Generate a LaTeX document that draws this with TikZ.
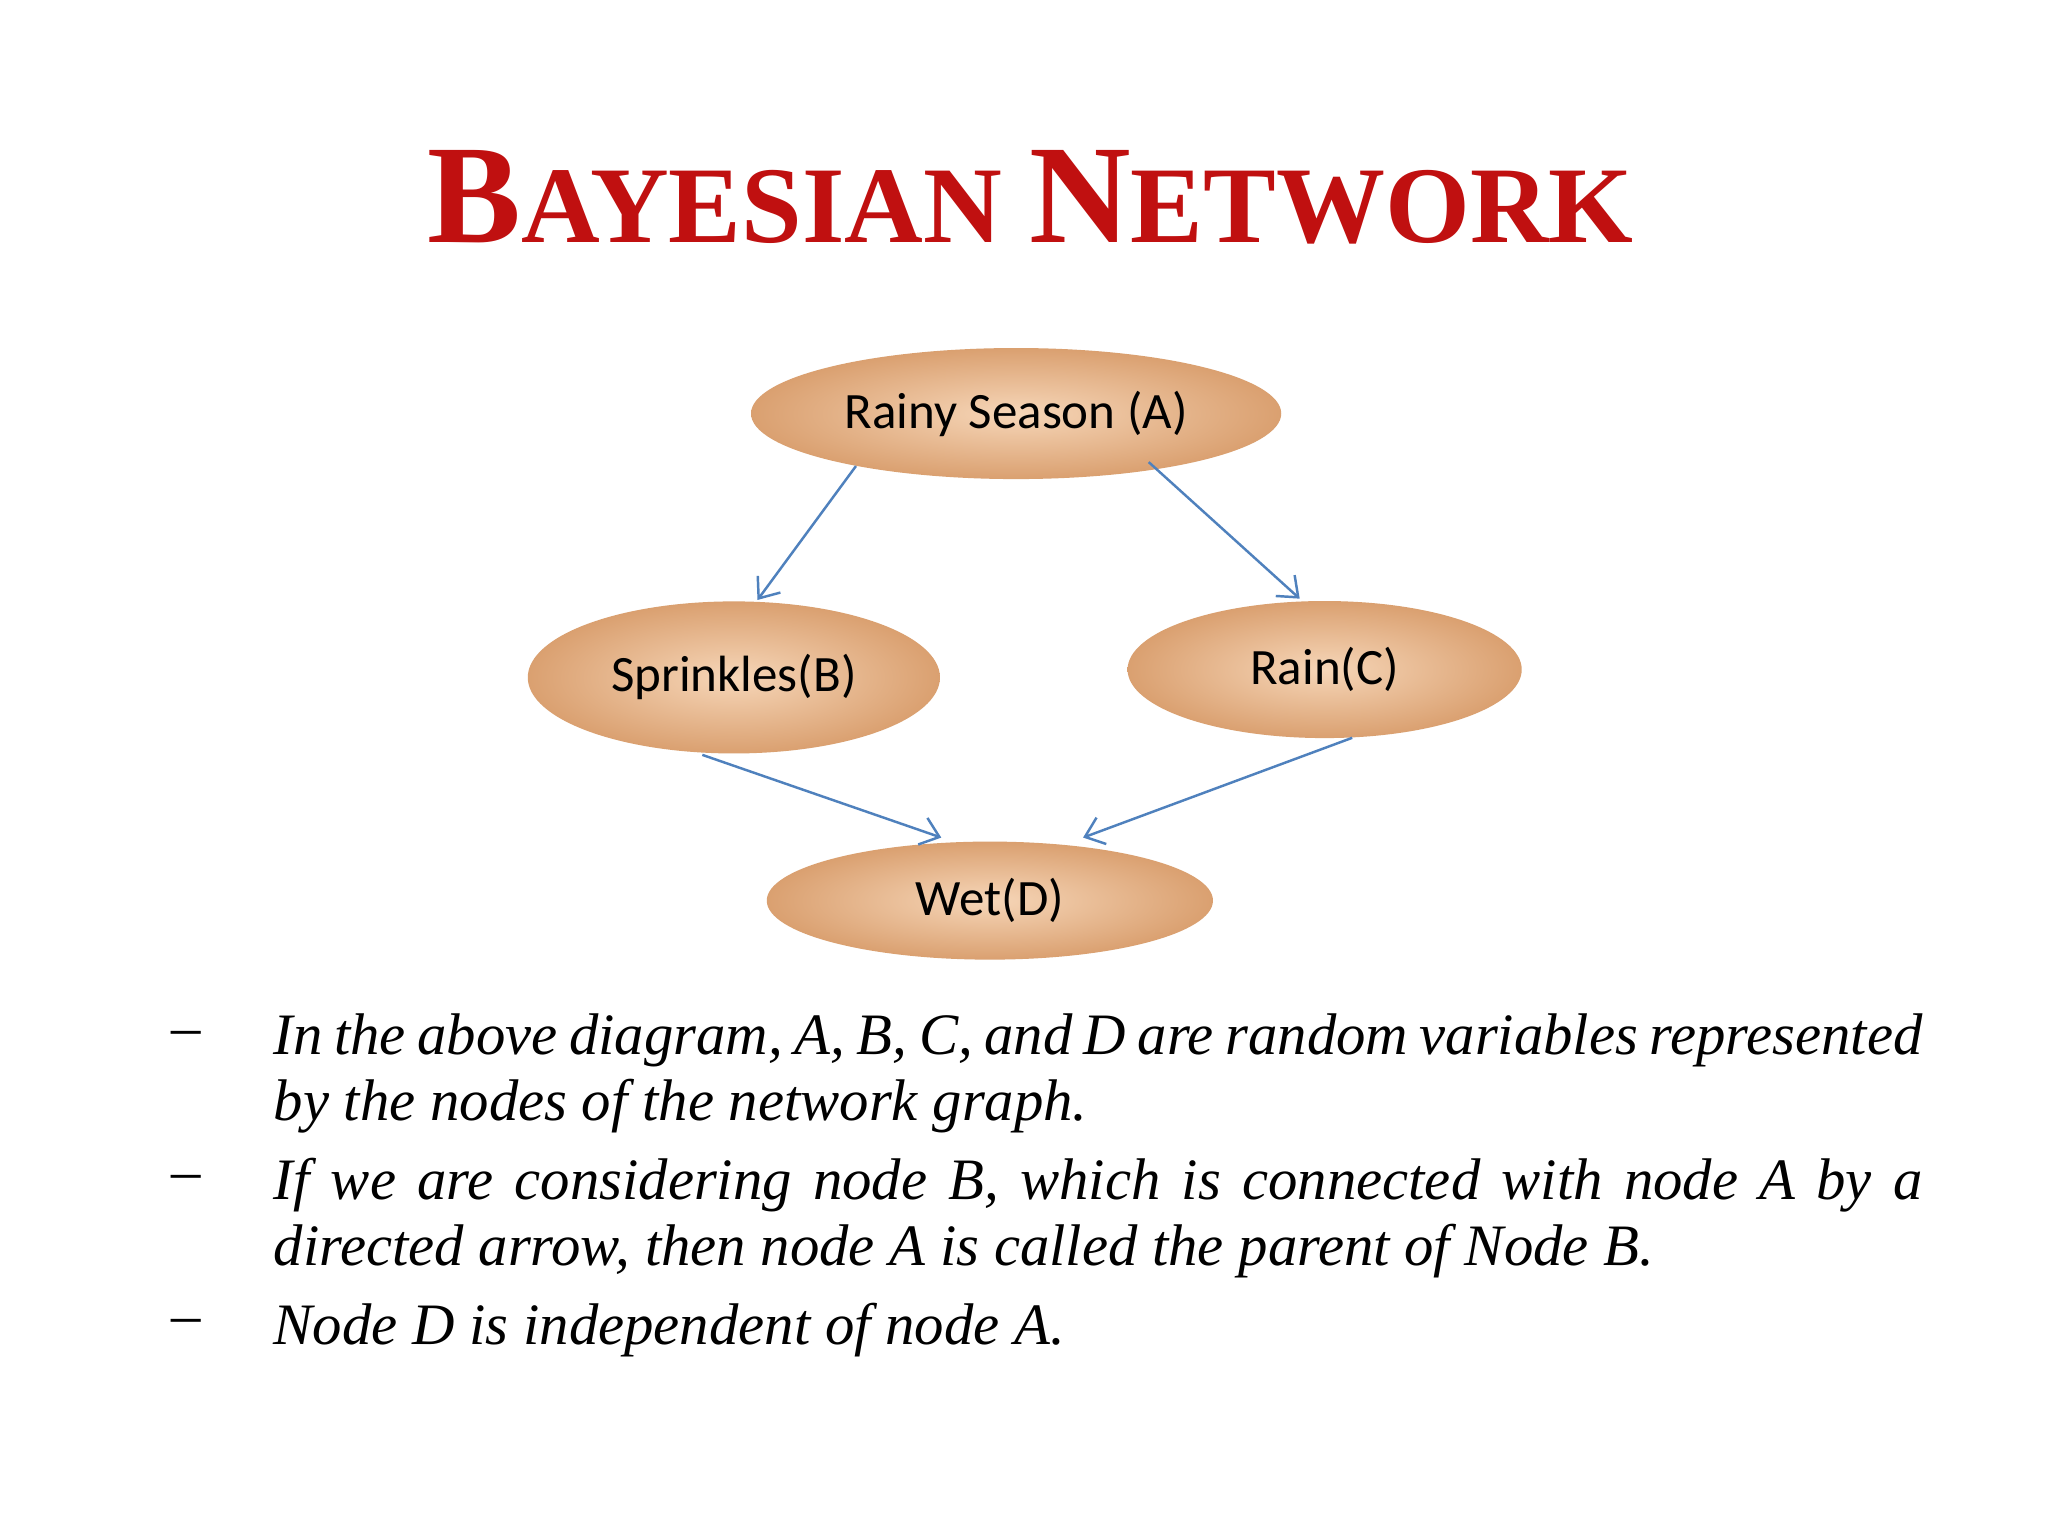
\documentclass[tikz,border=0pt]{standalone}
\usepackage{fontspec}
\setmainfont{Liberation Serif}
\newfontfamily\carl{Carlito}
\usetikzlibrary{shapes.geometric,arrows.meta}
\definecolor{titlered}{RGB}{192,16,16}
\definecolor{edgeblue}{RGB}{79,129,189}
\definecolor{tanout}{RGB}{218,160,112}
\definecolor{tanin}{RGB}{246,214,184}
\tikzset{
 bn/.style={ellipse, inner sep=0pt, shading=radial, inner color=tanin, outer color=tanout, font=\carl\fontsize{14.5}{16}\selectfont, text=black},
 edge/.style={draw=edgeblue, line width=0.7pt, -{Straight Barb[length=5pt,width=8pt]}}
}
\begin{document}
\begin{tikzpicture}[x=0.01313cm,y=-0.01313cm]
\useasboundingbox[fill=white] (0,0) rectangle (1560,1170);
\node[text=titlered, font=\bfseries\fontsize{40}{44}\selectfont] (title) at (785,150) {B\fontsize{31}{36}\selectfont AYESIAN \fontsize{40}{44}\selectfont N\fontsize{31}{36}\selectfont ETWORK};
\node[bn, minimum width=5.30cm, minimum height=1.31cm] (A) at (774,315) {Rainy Season (A)};
\node[bn, minimum width=4.12cm, minimum height=1.52cm] (B) at (559,516) {Sprinkles(B)};
\node[bn, minimum width=3.94cm, minimum height=1.37cm] (C) at (1009,510) {Rain(C)};
\node[bn, minimum width=4.46cm, minimum height=1.18cm] (D) at (754,686) {Wet(D)};
\coordinate (a1) at (652,355); \coordinate (b1) at (577,457);
\coordinate (a2) at (875,352); \coordinate (c1) at (990,456);
\coordinate (b2) at (535,575); \coordinate (d1) at (717,638);
\coordinate (c2) at (1030,562); \coordinate (d2) at (825,638);
\draw[edge] (a1) -- (b1);
\draw[edge] (a2) -- (c1);
\draw[edge] (b2) -- (d1);
\draw[edge] (c2) -- (d2);
\tikzset{bul/.style={anchor=north west, inner sep=0pt, text width=16.48cm, align=justify, font=\itshape\fontsize{16.7}{18.7}\selectfont},
 dsh/.style={anchor=base west, inner sep=0pt, font=\fontsize{16.7}{18.7}\selectfont}}
\node[bul] (t1) at (208,772) {In the above diagram, A, B, C, and D are random variables represented by the nodes of the network graph.};
\node[dsh] (d1m) at (130,808) {\raisebox{0.25em}{--}};
\node[bul] (t2) at (208,882) {If we are considering node B, which is connected with node A by a directed arrow, then node A is called the parent of Node B.};
\node[dsh] (d2m) at (130,918) {\raisebox{0.25em}{--}};
\node[bul] (t3) at (208,992) {Node D is independent of node A.};
\node[dsh] (d3m) at (130,1028) {\raisebox{0.25em}{--}};
\end{tikzpicture}
\end{document}
